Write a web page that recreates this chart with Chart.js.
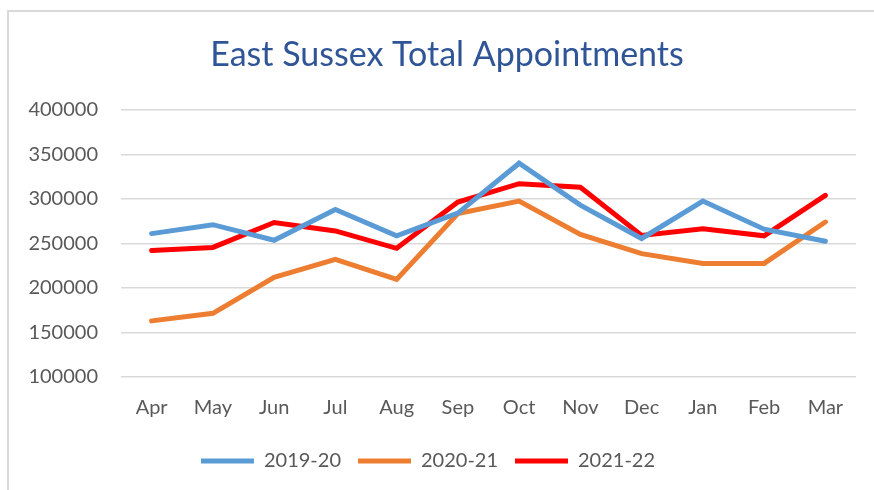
<!DOCTYPE html>
<html>
<head>
<meta charset="utf-8">
<script src="https://cdn.jsdelivr.net/npm/chart.js@4.4.1/dist/chart.umd.min.js"></script>
<style>
  html, body { margin: 0; padding: 0; background: #fff; overflow: hidden; }
  .frame { position: absolute; left: 7px; top: 10px; width: 900px; height: 500px; border: 2px solid #d9d9d9; box-sizing: border-box; }
  .wrap { position: absolute; left: 0; top: 0; width: 874px; height: 490px; }
</style>
</head>
<body>
<div class="frame"></div>
<div class="wrap"><canvas id="apptChart" width="874" height="490"></canvas></div>
<script>
const months = ['Apr', 'May', 'Jun', 'Jul', 'Aug', 'Sep', 'Oct', 'Nov', 'Dec', 'Jan', 'Feb', 'Mar'];
const appts_2019_20 = [261000, 271000, 253500, 288000, 258500, 284000, 340000, 293000, 255500, 297500, 266000, 252500];
const appts_2020_21 = [163000, 171500, 212000, 232000, 209500, 283500, 297500, 260000, 238500, 227500, 227500, 274000];
const appts_2021_22 = [242000, 245500, 273500, 264000, 244500, 296500, 317000, 313000, 259000, 266500, 258500, 304000];
const yTicks = [100000, 150000, 200000, 250000, 300000, 350000, 400000];

const font = 'Lato';
const tickColor = '#595959';

const ctx = document.getElementById('apptChart').getContext('2d');

function lineSet(label, data, color) {
  return {
    label: label,
    data: data,
    borderColor: color,
    backgroundColor: color,
    borderWidth: 5,
    borderCapStyle: 'round',
    borderJoinStyle: 'miter',
    pointRadius: 0,
    pointHoverRadius: 0,
    tension: 0,
    fill: false,
  };
}

// the title in the original sits a bit right of the plot centre
const titleShift = {
  id: 'titleShift',
  afterLayout(chart) {
    if (chart.titleBlock) {
      chart.titleBlock.left += 19;
      chart.titleBlock.right += 19;
    }
  },
};

const apptChart = new Chart(ctx, {
  type: 'line',
  data: {
    labels: months,
    datasets: [
      lineSet('2019-20', appts_2019_20, '#5b9bd5'),
      lineSet('2020-21', appts_2020_21, '#ed7d31'),
      lineSet('2021-22', appts_2021_22, '#ff0000'),
    ],
  },
  plugins: [titleShift],
  options: {
    responsive: false,
    animation: false,
    events: [],
    layout: {
      padding: { left: 0, right: 18, top: 0, bottom: 9 },
    },
    plugins: {
      title: {
        display: true,
        text: 'East Sussex Total Appointments',
        color: '#2f5597',
        font: { family: font, size: 34, weight: 'normal' },
        padding: { top: 35, bottom: 34 },
      },
      legend: {
        position: 'bottom',
        labels: {
          usePointStyle: true,
          pointStyle: 'line',
          pointStyleWidth: 53,
          color: tickColor,
          font: { family: font, size: 20 },
          padding: 17,
        },
      },
      tooltip: { enabled: false },
    },
    scales: {
      x: {
        offset: true,
        afterFit(scale) {
          scale.height += 3;
        },
        grid: { display: false },
        border: { display: false },
        ticks: {
          color: tickColor,
          font: { family: font, size: 20 },
          padding: 11,
          maxRotation: 0,
          autoSkip: false,
        },
      },
      y: {
        min: yTicks[0],
        max: yTicks[yTicks.length - 1],
        afterFit(scale) {
          scale.width = 121;
        },
        afterBuildTicks(scale) {
          scale.ticks = yTicks.map((v) => ({ value: v }));
        },
        grid: {
          color: '#d9d9d9',
          lineWidth: 1.5,
          drawTicks: false,
        },
        border: { display: false },
        ticks: {
          color: tickColor,
          font: { family: font, size: 20 },
          padding: 23,
          callback: (v) => String(v),
        },
      },
    },
  },
});
</script>
</body>
</html>
